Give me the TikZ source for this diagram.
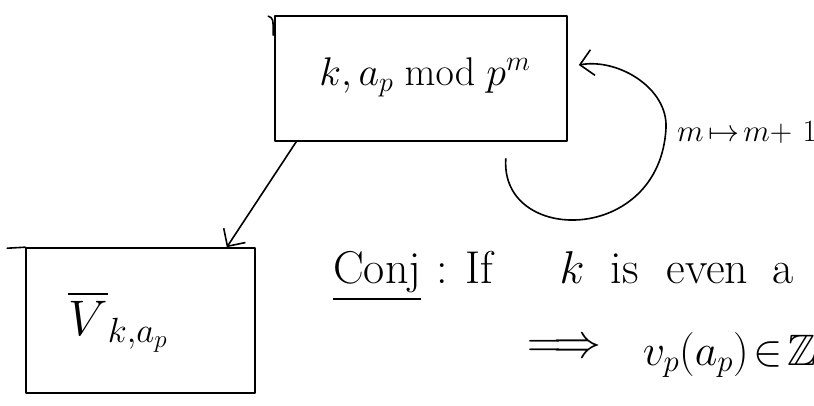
\RequirePackage{fix-cm}
\documentclass[tikz,border=0pt]{standalone}
\usepackage{amssymb}
% let the blackboard letters scale freely
\DeclareFontFamily{U}{msb}{}
\DeclareFontShape{U}{msb}{m}{n}{<-> msbm10}{}
\usetikzlibrary{arrows.meta}
\begin{document}
\begin{tikzpicture}[x=1pt,y=-1pt,
  ink/.style={line width=1.6pt, line cap=round, line join=round},
  box/.style={draw, ink, inner sep=0pt},
  barb/.style={-{Straight Barb[length=13pt,width=26pt,line width=1.6pt]}},
  hand/.style={inner sep=0pt, font=\fontsize{#1}{#1}\selectfont},
]
\useasboundingbox (0,0) rectangle (814,405);
\clip (0,0) rectangle (814,405);

% the two boxes
\node[box, minimum width=292pt, minimum height=125pt] (top) at (421,78.5) {};
\draw[ink] ([shift={(-6,1)}]top.north west) .. controls ([shift={(-1,3)}]top.north west) .. ([shift={(-1,20)}]top.north west);
\node[box, minimum width=229pt, minimum height=145pt] (low) at (140.5,320.5) {};
\draw[ink] (low.north west) -- ++(-18,1);

% box contents
\node[hand=40, anchor=base] (toplbl) at (425,85) {$k,a_p \bmod p^m$};
\node[hand=50, anchor=base] (lowlbl) at (118,335) {$\overline{V}_{k,a_p}$};

% map down to the lower box
\draw[ink, barb] ([xshift=22pt]top.south west) -- ([xshift=-29pt]low.north east);

% loop back onto the top box
\draw[ink, barb] ([shift={(-62,17)}]top.south east)
  .. controls (500,245) and (660,245) .. (666,128)
  .. controls (668,88) and (618,58) .. ([shift={(11,-13.5)}]top.east);
\node[hand=31, anchor=base west] (loop) at (677,141) {$m\mkern3mu{\mapsto}\mkern2mu m{+}\mkern6mu1$};

% conjecture text
\node[hand=46, anchor=base west] (conj) at (333,283)
  {\underline{Conj}\hspace{15pt}:\hspace{18pt}If\hspace{66pt}$k$\hspace{26pt}is\hspace{28pt}even\hspace{24pt}a};
\node[hand=44, anchor=base west] (impl) at (527,365)
  {{\fontsize{48}{48}\selectfont\raisebox{8pt}{$\Longrightarrow$}}\hspace{41pt}$v_p(a_p)\mkern2mu{\in}\mkern2mu\mathbb{Z}$};
\end{tikzpicture}
\end{document}
